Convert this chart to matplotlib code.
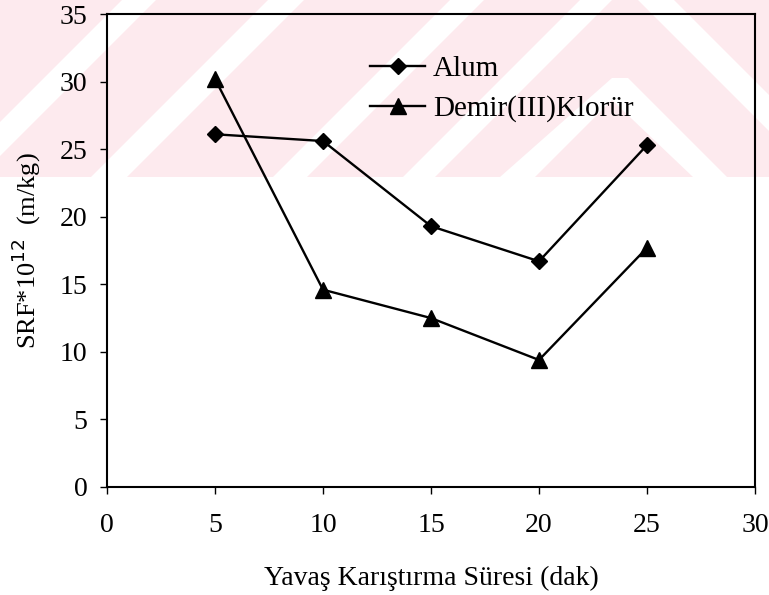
import matplotlib
matplotlib.use("Agg")
import matplotlib.pyplot as plt
from matplotlib.patches import Polygon, Rectangle

# Slow-mixing time (min) and specific resistance to filtration
sure = [5, 10, 15, 20, 25]
alum = [26.1, 25.6, 19.3, 16.7, 25.3]
demir = [30.2, 14.6, 12.5, 9.4, 17.7]
x_ticks = [0, 5, 10, 15, 20, 25, 30]
y_ticks = [0, 5, 10, 15, 20, 25, 30, 35]

plt.rcParams["font.family"] = ["Liberation Serif", "DejaVu Serif"]
W, H = 769, 595
fig = plt.figure(figsize=(W / 100, H / 100), dpi=100)

# light pink banner with diagonal white stripes behind the upper part
band_h = 177
fig.patches.append(Rectangle((0, 1 - band_h / H), 1, band_h / H,
                             transform=fig.transFigure, facecolor="#fdeaee",
                             edgecolor="none", zorder=-10))

def px(poly):
    return [(x / W, 1 - y / H) for x, y in poly]

def slash(x0, w):
    # "/" stripe: x = x0 - y
    return [(x0, 0), (x0 + w, 0), (x0 + w - band_h, band_h), (x0 - band_h, band_h)]

def backslash(x0, w):
    # "\" stripe: x = x0 + y
    return [(x0, 0), (x0 + w, 0), (x0 + w + band_h, band_h), (x0 + band_h, band_h)]

stripes = [slash(122, 34), slash(268, 36), slash(450, 34), slash(580, 32),
           backslash(638, 36)]
# chevron near the right
stripes.append([(612, 78), (628, 78), (727, 177), (693, 177), (612, 100), (535, 177), (500, 177)])
for s in stripes:
    fig.patches.append(Polygon(px(s), closed=True, transform=fig.transFigure,
                               facecolor="white", edgecolor="none", zorder=-9))
# keep the stripes inside the band
fig.patches.append(Rectangle((0, 0), 1, 1 - band_h / H, transform=fig.transFigure,
                             facecolor="white", edgecolor="none", zorder=-8))

ax = fig.add_axes([107 / W, 1 - 487 / H, (755 - 107) / W, (487 - 14) / H])
ax.patch.set_alpha(0)

ax.plot(sure, alum, color="black", lw=1.7, marker="D", ms=8.5, label="Alum")
ax.plot(sure, demir, color="black", lw=1.7, marker="^", ms=11, label="Demir(III)Klorür")

ax.set_xlim(0, 30)
ax.set_ylim(0, 35)
ax.set_xticks(x_ticks)
ax.set_yticks(y_ticks)
for sp in ax.spines.values():
    sp.set_linewidth(1.5)
ax.tick_params(direction="out", length=5, width=1, labelsize=20)
ax.tick_params(axis="x", pad=14)
ax.tick_params(axis="y", pad=9)

ax.set_xlabel("Yavaş Karıştırma Süresi (dak)", fontsize=20, labelpad=20)
ax.set_ylabel("SRF*10$^{12}$  (m/kg)", fontsize=19, labelpad=12)

ax.legend(loc="upper left", bbox_to_anchor=((370 - 107) / 648, (487 - 56) / 473),
          frameon=False, fontsize=21, handlelength=1.9, handletextpad=0.25,
          labelspacing=0.45, borderpad=0, borderaxespad=0)

fig.savefig("out.png", dpi=100)
